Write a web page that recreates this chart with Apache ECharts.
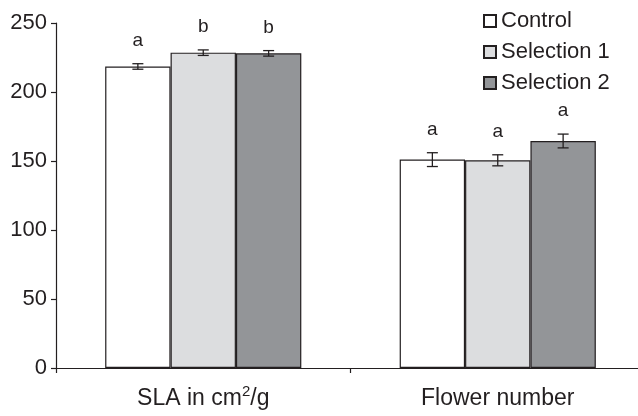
<!DOCTYPE html>
<html>
<head>
<meta charset="utf-8">
<script src="https://cdn.jsdelivr.net/npm/echarts@6/dist/echarts.min.js"></script>
<style>
  html, body { margin: 0; padding: 0; background: #fff; }
  #chart { width: 638px; height: 416px; }
</style>
</head>
<body>
<div id="chart"></div>
<script>
// values
const categories = ["SLA", "Flower number"];
const seriesNames = ["Control", "Selection 1", "Selection 2"];
const controlValues = [218.5, 151];
const selection1Values = [228.5, 150.5];
const selection2Values = [228, 164.5];
const controlErrors = [2, 5];
const selection1Errors = [2, 4];
const selection2Errors = [2, 5];
const controlLetters = ["a", "a"];
const selection1Letters = ["b", "a"];
const selection2Letters = ["b", "a"];
const yTicks = [0, 50, 100, 150, 200, 250];

const INK = "#231f20";
const FONT = "Liberation Sans, Arial, sans-serif";
const fills = ["#ffffff", "#dcdddf", "#939598"];
const BAR_PCT = 0.222;

const chart = echarts.init(document.getElementById("chart"));

const groups = [
  { values: controlValues, errors: controlErrors, letters: controlLetters },
  { values: selection1Values, errors: selection1Errors, letters: selection1Letters },
  { values: selection2Values, errors: selection2Errors, letters: selection2Letters }
];

const barSeries = groups.map((g, i) => ({
  name: seriesNames[i],
  type: "bar",
  data: g.values,
  barWidth: (BAR_PCT * 100) + "%",
  barGap: "0%",
  itemStyle: { color: fills[i], borderColor: INK, borderWidth: 1.2 },
  z: 2
}));

// error bars and significance letters
const errorData = [];
groups.forEach((g, s) => {
  g.values.forEach((v, c) => errorData.push([c, v, g.errors[c], s, g.letters[c]]));
});

function renderError(params, api) {
  const cat = api.value(0);
  const val = api.value(1);
  const err = api.value(2);
  const s = api.value(3);
  const catW = api.size([1, 0])[0];
  const dx = (s - 1) * catW * BAR_PCT;
  const hi = api.coord([cat, val + err]);
  const lo = api.coord([cat, val - err]);
  const x = hi[0] + dx;
  const cap = 5.5;
  const st = { stroke: INK, lineWidth: 1.3 };
  return {
    type: "group",
    children: [
      { type: "line", shape: { x1: x, y1: hi[1], x2: x, y2: lo[1] }, style: st },
      { type: "line", shape: { x1: x - cap, y1: hi[1], x2: x + cap, y2: hi[1] }, style: st },
      { type: "line", shape: { x1: x - cap, y1: lo[1], x2: x + cap, y2: lo[1] }, style: st },
      {
        type: "text",
        style: {
          x: x, y: hi[1] - 23, text: errorData[params.dataIndex][4],
          fill: INK, font: "19px " + FONT, align: "center", verticalAlign: "middle"
        }
      }
    ]
  };
}

chart.setOption({
  animation: false,
  textStyle: { fontFamily: FONT, color: INK },
  grid: { left: 56, width: 589, top: 23, bottom: 48, outerBoundsMode: "none", containLabel: false },
  legend: {
    orient: "vertical",
    left: 483,
    top: 10,
    padding: 0,
    itemWidth: 12,
    itemHeight: 12,
    itemGap: 9,
    icon: "rect",
    data: seriesNames,
    textStyle: { fontSize: 22, color: INK, fontFamily: FONT }
  },
  xAxis: {
    type: "category",
    data: categories,
    axisLine: { lineStyle: { color: INK, width: 1.2 } },
    axisTick: { show: true, interval: 0, length: 5, lineStyle: { color: INK, width: 1.2 } },
    axisLabel: {
      interval: 0, hideOverlap: false,
      color: INK, fontSize: 23, margin: 16, fontFamily: FONT,
      formatter: v => v === "SLA" ? "{base|SLA in cm}{sup|2}{base|/g}" : "{base|" + v + "}",
      rich: {
        base: { fontSize: 23, lineHeight: 29, color: INK, fontFamily: FONT },
        sup: { fontSize: 15, lineHeight: 15, verticalAlign: "top", color: INK, fontFamily: FONT }
      }
    }
  },
  yAxis: {
    type: "value",
    min: 0,
    max: 250,
    interval: 50,
    splitLine: { show: false },
    axisLine: { show: true, lineStyle: { color: INK, width: 1.2 } },
    axisTick: { show: true, length: 5, lineStyle: { color: INK, width: 1.2 } },
    axisLabel: {
      color: INK, fontSize: 22, margin: 9, fontFamily: FONT,
      formatter: v => yTicks.includes(v) ? String(v) : ""
    }
  },
  series: barSeries.concat([{
    type: "custom",
    renderItem: renderError,
    data: errorData,
    encode: { x: 0, y: 1 },
    z: 5,
    silent: true
  }])
});
</script>
</body>
</html>
